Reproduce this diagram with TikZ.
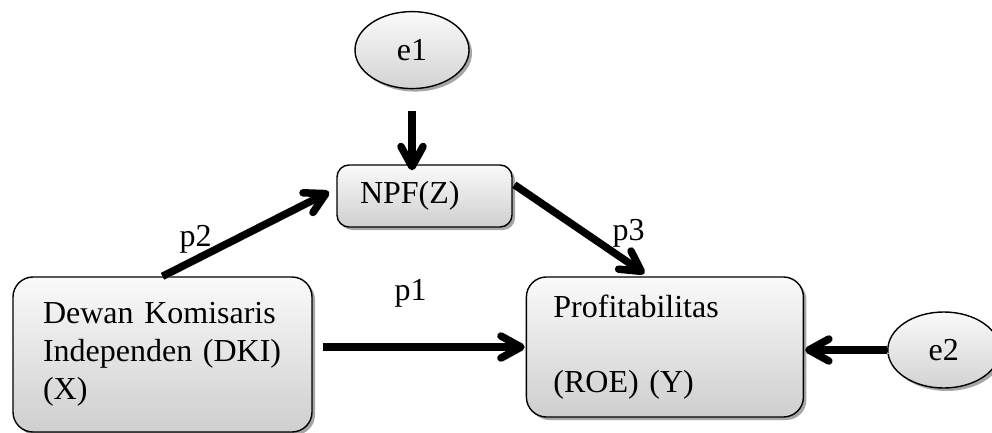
\documentclass[tikz,border=0pt]{standalone}
\usepackage{fontspec}
\setmainfont{Liberation Serif}
\usepackage{tikz}
\usetikzlibrary{positioning, arrows.meta, shadows, shapes.geometric}
\tikzset{var node/.style={rectangle,draw,line width=1.4pt,rounded corners=20pt,top color=gray!4,bottom color=gray!38,
        drop shadow={shadow xshift=3pt,shadow yshift=-3pt,fill=gray,opacity=.7},align=left},
    err node/.style={ellipse,draw,line width=1.4pt,top color=gray!4,bottom color=gray!35,minimum width=114pt,minimum height=77pt,
        inner sep=0pt,drop shadow={shadow xshift=3pt,shadow yshift=-3pt,fill=gray,opacity=.7}},
    path line/.style={line width=7.5pt,-{Straight Barb[length=20pt,width=22pt,round]},
        preaction={draw=gray!55,transform canvas={xshift=2.5pt,yshift=-3pt}}}}

\begin{document}
\begin{tikzpicture}[x=1pt,y=-1pt,font=\fontsize{32}{38}\selectfont]
            \useasboundingbox (0,0) rectangle (992,433);
            \node[var node,text width=239pt,inner xsep=30pt,minimum height=155pt] (DKI) at (162.5,354.5)
                {Dewan Komisaris\\Independen (DKI)\\(X)};
            \node[var node,text width=223pt,inner xsep=27pt,minimum height=140pt] (ROE) [right = 213pt of DKI, yshift=7.5pt]
                {Profitabilitas\\[37pt](ROE) (Y)};
            \node[var node,rounded corners=12pt,text width=129pt,inner xsep=23pt,minimum height=62pt] (NPF) at (424.5,196) {NPF(Z)};
            \node[err node] (e1) [above = 75pt of NPF, xshift=-12.5pt] {e1};
            \node[err node,minimum width=112pt,minimum height=76pt] (e2) [right = 83pt of ROE, yshift=-3pt] {e2};

            \node[anchor=base west] (p2) at (176,246) {p2};
            \node[anchor=base west] (p3) at (609,240) {p3};
            \node[anchor=base west] (p1) at (391,300) {p1};

            \draw[path line,shorten >=-6pt,shorten <=22pt] (e1.south) -- (e1.south |- NPF.north);
            \draw[path line,shorten >=8pt] (DKI.north) -- (NPF.175);
            \draw[path line,shorten <=2pt,shorten >=5pt] (NPF.8) -- (ROE.103);
            \draw[path line,shorten <=10pt,shorten >=1pt] (DKI.east |- ROE.west) -- (ROE.west);
            \draw[path line,shorten >=1pt] (e2.west) -- (ROE.east |- e2.west);
        \end{tikzpicture}
\end{document}
